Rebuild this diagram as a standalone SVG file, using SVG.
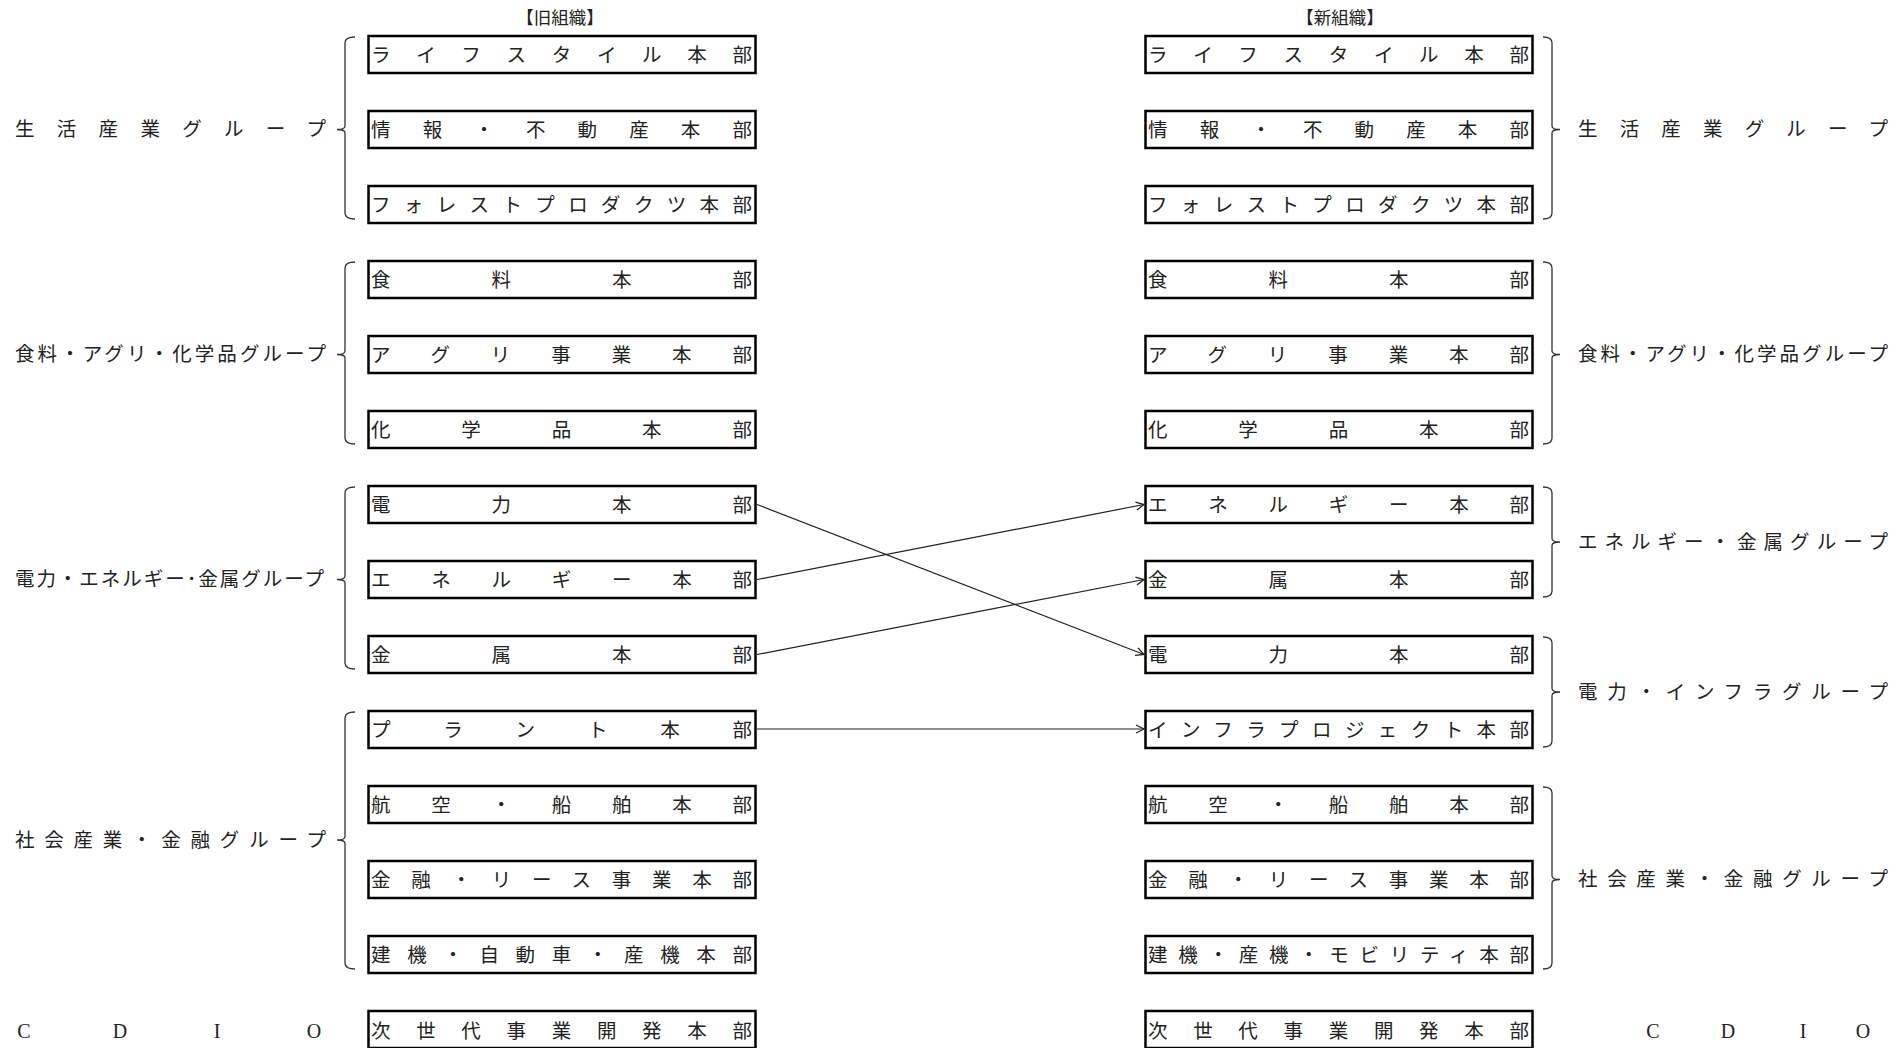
<svg xmlns="http://www.w3.org/2000/svg" width="1903" height="1048" viewBox="0 0 1903 1048">
<style>
.bg{fill:#fff}
.box{fill:#fff;stroke:#000;stroke-width:2.5}
.t{font-family:"Noto Sans CJK JP","Noto Sans CJK SC",sans-serif;font-size:19.5px;fill:#222;dominant-baseline:central}
.h{font-family:"Noto Sans CJK JP","Noto Sans CJK SC",sans-serif;font-size:17.5px;fill:#222;dominant-baseline:central;text-anchor:middle}
.l{font-family:"Liberation Serif",serif;font-size:20px;fill:#222;dominant-baseline:central;text-anchor:middle}
.br{fill:none;stroke:#333;stroke-width:1.3}
.cn{stroke:#222;stroke-width:1.2;fill:none}
</style>
<defs>
<marker id="arr" markerUnits="userSpaceOnUse" markerWidth="12" markerHeight="12" refX="10" refY="6" orient="auto">
<path d="M2,2 L10,6 L2,10" fill="none" stroke="#222" stroke-width="1.3"/>
</marker>
</defs>
<rect class="bg" x="0" y="0" width="1903" height="1048"/>
<text class="h" x="560" y="16.5">【旧組織】</text>
<text class="h" x="1340" y="16.5">【新組織】</text>

<!-- Old organisation group labels and brackets -->
<g id="old-group-seikatsu">
<path class="br" d="M355,37 Q345,37 345,43 L345,126 Q345,129.5 337,129.5 Q345,129.5 345,133 L345,213 Q345,219 355,219"/>
<text class="t" x="15" y="127.5" textLength="311" lengthAdjust="spacing">生活産業グループ</text>
</g>
<g id="old-group-shokuryo">
<path class="br" d="M355,262 Q345,262 345,268 L345,351 Q345,354.5 337,354.5 Q345,354.5 345,358 L345,438 Q345,444 355,444"/>
<text class="t" x="15" y="352.5" textLength="311" lengthAdjust="spacing">食料・アグリ・化学品グループ</text>
</g>
<g id="old-group-denryoku">
<path class="br" d="M355,487 Q345,487 345,493 L345,576 Q345,579.5 337,579.5 Q345,579.5 345,583 L345,663 Q345,669 355,669"/>
<text class="t" x="15" y="577.5" textLength="309" lengthAdjust="spacing">電力・エネルギー･金属グループ</text>
</g>
<g id="old-group-shakai">
<path class="br" d="M355,712 Q345,712 345,718 L345,836.5 Q345,840 337,840 Q345,840 345,843.5 L345,963 Q345,969 355,969"/>
<text class="t" x="15" y="838" textLength="311" lengthAdjust="spacing">社会産業・金融グループ</text>
</g>
<g id="old-cdio">
<text class="l" x="24" y="1030.5">C</text>
<text class="l" x="120" y="1030.5">D</text>
<text class="l" x="217" y="1030.5">I</text>
<text class="l" x="314" y="1030.5">O</text>
</g>

<!-- Old organisation boxes -->
<g id="old-1"><rect class="box" x="368.5" y="36" width="387" height="37"/><text class="t" x="371" y="53" textLength="381" lengthAdjust="spacing">ライフスタイル本部</text></g>
<g id="old-2"><rect class="box" x="368.5" y="111" width="387" height="37"/><text class="t" x="371" y="128" textLength="381" lengthAdjust="spacing">情報・不動産本部</text></g>
<g id="old-3"><rect class="box" x="368.5" y="186" width="387" height="37"/><text class="t" x="371" y="203" textLength="381" lengthAdjust="spacing">フォレストプロダクツ本部</text></g>
<g id="old-4"><rect class="box" x="368.5" y="261" width="387" height="37"/><text class="t" x="371" y="278" textLength="381" lengthAdjust="spacing">食料本部</text></g>
<g id="old-5"><rect class="box" x="368.5" y="336" width="387" height="37"/><text class="t" x="371" y="353" textLength="381" lengthAdjust="spacing">アグリ事業本部</text></g>
<g id="old-6"><rect class="box" x="368.5" y="411" width="387" height="37"/><text class="t" x="371" y="428" textLength="381" lengthAdjust="spacing">化学品本部</text></g>
<g id="old-7"><rect class="box" x="368.5" y="486" width="387" height="37"/><text class="t" x="371" y="503" textLength="381" lengthAdjust="spacing">電力本部</text></g>
<g id="old-8"><rect class="box" x="368.5" y="561" width="387" height="37"/><text class="t" x="371" y="578" textLength="381" lengthAdjust="spacing">エネルギー本部</text></g>
<g id="old-9"><rect class="box" x="368.5" y="636" width="387" height="37"/><text class="t" x="371" y="653" textLength="381" lengthAdjust="spacing">金属本部</text></g>
<g id="old-10"><rect class="box" x="368.5" y="711" width="387" height="37"/><text class="t" x="371" y="728" textLength="381" lengthAdjust="spacing">プラント本部</text></g>
<g id="old-11"><rect class="box" x="368.5" y="786" width="387" height="37"/><text class="t" x="371" y="803" textLength="381" lengthAdjust="spacing">航空・船舶本部</text></g>
<g id="old-12"><rect class="box" x="368.5" y="861" width="387" height="37"/><text class="t" x="371" y="878" textLength="381" lengthAdjust="spacing">金融・リース事業本部</text></g>
<g id="old-13"><rect class="box" x="368.5" y="936" width="387" height="37"/><text class="t" x="371" y="953" textLength="381" lengthAdjust="spacing">建機・自動車・産機本部</text></g>
<g id="old-14"><rect class="box" x="368.5" y="1011" width="387" height="37"/><text class="t" x="371" y="1029" textLength="381" lengthAdjust="spacing">次世代事業開発本部</text></g>

<!-- New organisation boxes -->
<g id="new-1"><rect class="box" x="1145.5" y="36" width="387" height="37"/><text class="t" x="1148" y="53" textLength="381" lengthAdjust="spacing">ライフスタイル本部</text></g>
<g id="new-2"><rect class="box" x="1145.5" y="111" width="387" height="37"/><text class="t" x="1148" y="128" textLength="381" lengthAdjust="spacing">情報・不動産本部</text></g>
<g id="new-3"><rect class="box" x="1145.5" y="186" width="387" height="37"/><text class="t" x="1148" y="203" textLength="381" lengthAdjust="spacing">フォレストプロダクツ本部</text></g>
<g id="new-4"><rect class="box" x="1145.5" y="261" width="387" height="37"/><text class="t" x="1148" y="278" textLength="381" lengthAdjust="spacing">食料本部</text></g>
<g id="new-5"><rect class="box" x="1145.5" y="336" width="387" height="37"/><text class="t" x="1148" y="353" textLength="381" lengthAdjust="spacing">アグリ事業本部</text></g>
<g id="new-6"><rect class="box" x="1145.5" y="411" width="387" height="37"/><text class="t" x="1148" y="428" textLength="381" lengthAdjust="spacing">化学品本部</text></g>
<g id="new-7"><rect class="box" x="1145.5" y="486" width="387" height="37"/><text class="t" x="1148" y="503" textLength="381" lengthAdjust="spacing">エネルギー本部</text></g>
<g id="new-8"><rect class="box" x="1145.5" y="561" width="387" height="37"/><text class="t" x="1148" y="578" textLength="381" lengthAdjust="spacing">金属本部</text></g>
<g id="new-9"><rect class="box" x="1145.5" y="636" width="387" height="37"/><text class="t" x="1148" y="653" textLength="381" lengthAdjust="spacing">電力本部</text></g>
<g id="new-10"><rect class="box" x="1145.5" y="711" width="387" height="37"/><text class="t" x="1148" y="728" textLength="381" lengthAdjust="spacing">インフラプロジェクト本部</text></g>
<g id="new-11"><rect class="box" x="1145.5" y="786" width="387" height="37"/><text class="t" x="1148" y="803" textLength="381" lengthAdjust="spacing">航空・船舶本部</text></g>
<g id="new-12"><rect class="box" x="1145.5" y="861" width="387" height="37"/><text class="t" x="1148" y="878" textLength="381" lengthAdjust="spacing">金融・リース事業本部</text></g>
<g id="new-13"><rect class="box" x="1145.5" y="936" width="387" height="37"/><text class="t" x="1148" y="953" textLength="381" lengthAdjust="spacing">建機・産機・モビリティ本部</text></g>
<g id="new-14"><rect class="box" x="1145.5" y="1011" width="387" height="37"/><text class="t" x="1148" y="1029" textLength="381" lengthAdjust="spacing">次世代事業開発本部</text></g>

<!-- New organisation group labels and brackets -->
<g id="new-group-seikatsu">
<path class="br" d="M1543,37 Q1552,37 1552,43 L1552,126 Q1552,129.5 1560,129.5 Q1552,129.5 1552,133 L1552,213 Q1552,219 1543,219"/>
<text class="t" x="1578" y="127.5" textLength="310" lengthAdjust="spacing">生活産業グループ</text>
</g>
<g id="new-group-shokuryo">
<path class="br" d="M1543,262 Q1552,262 1552,268 L1552,351 Q1552,354.5 1560,354.5 Q1552,354.5 1552,358 L1552,438 Q1552,444 1543,444"/>
<text class="t" x="1578" y="352.5" textLength="310" lengthAdjust="spacing">食料・アグリ・化学品グループ</text>
</g>
<g id="new-group-energy">
<path class="br" d="M1543,487 Q1552,487 1552,493 L1552,538.5 Q1552,542 1560,542 Q1552,542 1552,545.5 L1552,591 Q1552,597 1543,597"/>
<text class="t" x="1578" y="540" textLength="310" lengthAdjust="spacing">エネルギー・金属グループ</text>
</g>
<g id="new-group-infra">
<path class="br" d="M1543,637 Q1552,637 1552,643 L1552,688.5 Q1552,692 1560,692 Q1552,692 1552,695.5 L1552,741 Q1552,747 1543,747"/>
<text class="t" x="1578" y="690" textLength="310" lengthAdjust="spacing">電力・インフラグループ</text>
</g>
<g id="new-group-shakai">
<path class="br" d="M1543,787 Q1552,787 1552,793 L1552,876 Q1552,879.5 1560,879.5 Q1552,879.5 1552,883 L1552,963 Q1552,969 1543,969"/>
<text class="t" x="1578" y="877.5" textLength="310" lengthAdjust="spacing">社会産業・金融グループ</text>
</g>
<g id="new-cdio">
<text class="l" x="1653" y="1030.5">C</text>
<text class="l" x="1728" y="1030.5">D</text>
<text class="l" x="1803" y="1030.5">I</text>
<text class="l" x="1863" y="1030.5">O</text>
</g>

<!-- Connectors -->
<g id="connectors">
<line class="cn" x1="757" y1="504.5" x2="1144" y2="654.5" marker-end="url(#arr)"/>
<line class="cn" x1="757" y1="579.5" x2="1144" y2="504.5" marker-end="url(#arr)"/>
<line class="cn" x1="757" y1="654.5" x2="1144" y2="579.5" marker-end="url(#arr)"/>
<line class="cn" x1="757" y1="729" x2="1144" y2="729" marker-end="url(#arr)"/>
</g>
</svg>
